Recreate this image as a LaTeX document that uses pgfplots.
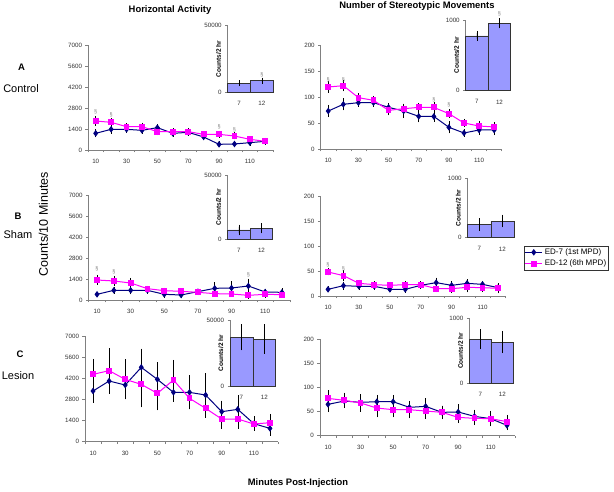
\documentclass[border=0pt]{standalone}
\usepackage{fontspec}
\setmainfont{Liberation Sans}
\usepackage{pgfplots}
\pgfplotsset{compat=1.18}
\definecolor{edblue}{RGB}{0,0,128}
\definecolor{edmag}{RGB}{255,0,255}
\definecolor{barfill}{RGB}{153,153,255}
\pgfplotsset{
 base/.style={scale only axis, axis lines*=left, axis line style={gray, line width=0.6pt, -},
   tick align=outside, tick style={gray, line width=0.5pt}, major tick length=2.5pt, minor tick length=2.5pt,
   tick label style={font=\fontsize{6.2}{7}\selectfont, text=black!80},
   xticklabel style={yshift=-3pt},
   /pgf/number format/assume math mode=true, /pgf/number format/1000 sep={},
   scaled y ticks=false, enlargelimits=false, clip=false},
 mainL/.style={base, xmin=5, xmax=125, xtick={10,30,...,110}, minor xtick={5,15,...,125},
   major x tick style={draw=none}, ymin=0, ymax=7000, ytick={0,1400,...,7000}},
 mainR/.style={base, xmin=5, xmax=125, xtick={10,30,...,110}, minor xtick={5,15,...,125},
   major x tick style={draw=none}, ymin=0, ymax=200, ytick={0,50,...,200}},
 s7/.style={color=edblue, line width=1pt, mark=diamond*, mark size=2.5pt, mark options={fill=edblue, solid},
   error bars/.cd, y dir=both, y explicit, error bar style={black, line width=0.5pt},
   error mark options={black, mark size=2pt, line width=0.5pt}},
 s12/.style={color=edmag, line width=1pt, mark=square*, mark size=2.4pt, mark options={fill=edmag, solid},
   error bars/.cd, y dir=both, y explicit, error bar style={black, line width=0.5pt},
   error mark options={black, mark size=2pt, line width=0.5pt}},
 inset/.style={base, ybar, bar width=1, xmin=0.5, xmax=2.5, xtick={1,2}, xticklabels={7,12},
   major x tick style={draw=none}, ymin=0,
   ylabel={Counts/2 hr}, ylabel style={font=\bfseries\fontsize{6.5}{7}\selectfont, at={(axis description cs:-0.2,0.5)}, anchor=center}},
 ibar/.style={fill=barfill, draw=black!80, line width=0.6pt,
   error bars/.cd, y dir=both, y explicit, error bar style={black, line width=0.5pt},
   error mark options={black, mark size=2.2pt, line width=0.5pt}},
}
\newcommand{\sect}{\fontsize{5.5}{5.5}\selectfont\color{gray}\S}
\begin{document}
\begin{tikzpicture}[x=1pt,y=1pt]
\useasboundingbox (0,0) rectangle (614,492);

% ---------- Panel A left
\begin{axis}[mainL, at={(88pt,342pt)}, anchor=south west, width=185pt, height=105pt]
\addplot[s7] table[x=x,y=y,y error=e,row sep=\\]{x y e\\ 10 1111 130\\ 20 1378 170\\ 30 1378 100\\ 40 1311 100\\ 50 1489 100\\ 60 1111 80\\ 70 1178 80\\ 80 867 80\\ 90 378 60\\ 100 400 60\\ 110 489 60\\ 120 578 60\\};
\addplot[s12] table[x=x,y=y,y error=e,row sep=\\]{x y e\\ 10 1933 180\\ 20 1844 150\\ 30 1556 100\\ 40 1556 130\\ 50 1222 100\\ 60 1222 80\\ 70 1222 80\\ 80 1044 80\\ 90 1044 100\\ 100 933 100\\ 110 711 80\\ 120 578 80\\};
\node at (axis cs:10,2550) {\sect}; \node at (axis cs:20,2330) {\sect};
\node at (axis cs:90,1560) {\sect}; \node at (axis cs:100,1330) {\sect};
\end{axis}
\begin{axis}[inset, at={(227.7pt,399.7pt)}, anchor=south west, width=45.6pt, height=66.6pt, ymax=50000, ytick={0,50000}]
\addplot[ibar] table[x=x,y=y,y error=e,row sep=\\]{x y e\\ 1 6750 500\\ 2 8750 600\\};
\node at (axis cs:2,13000) {\sect};
\end{axis}

% ---------- Panel A right
\begin{axis}[mainR, at={(320.7pt,343pt)}, anchor=south west, width=181pt, height=103.3pt]
\addplot[s7] table[x=x,y=y,y error=e,row sep=\\]{x y e\\ 10 73.5 8\\ 20 86.5 8\\ 30 89.7 4\\ 40 89.7 4\\ 50 80.6 5\\ 60 73.5 10\\ 70 63.2 8\\ 80 63 6\\ 90 42 8\\ 100 31 3\\ 110 36.8 6\\ 120 36.8 6\\};
\addplot[s12] table[x=x,y=y,y error=e,row sep=\\]{x y e\\ 10 120 7\\ 20 122.6 7\\ 30 99.4 5\\ 40 94.2 5\\ 50 74.8 6\\ 60 78 6\\ 70 80.6 4\\ 80 80.6 6\\ 90 68.4 5\\ 100 50.3 4\\ 110 44.5 6\\ 120 42.6 6\\};
\node at (axis cs:10,133.5) {\sect}; \node at (axis cs:20,133.5) {\sect};
\node at (axis cs:80,96) {\sect}; \node at (axis cs:90,86.5) {\sect};
\end{axis}
\begin{axis}[inset, at={(465.7pt,401.3pt)}, anchor=south west, width=45pt, height=70.7pt, ymax=1000, ytick={0,1000}]
\addplot[ibar] table[x=x,y=y,y error=e,row sep=\\]{x y e\\ 1 774 40\\ 2 953 40\\};
\node at (axis cs:2,1085) {\sect};
\end{axis}

% ---------- Panel B left
\begin{axis}[mainL, at={(88.6pt,192pt)}, anchor=south west, width=201.8pt, height=105pt]
\addplot[s7] table[x=x,y=y,y error=e,row sep=\\]{x y e\\ 10 378 50\\ 20 644 110\\ 30 644 140\\ 40 644 100\\ 50 378 90\\ 60 333 100\\ 70 556 70\\ 80 778 270\\ 90 800 330\\ 100 933 350\\ 110 533 70\\ 120 511 130\\};
\addplot[s12] table[x=x,y=y,y error=e,row sep=\\]{x y e\\ 10 1333 200\\ 20 1267 200\\ 30 1133 200\\ 40 756 50\\ 50 622 60\\ 60 578 60\\ 70 511 60\\ 80 422 60\\ 90 400 60\\ 100 311 80\\ 110 378 80\\ 120 356 80\\};
\node at (axis cs:10,2110) {\sect}; \node at (axis cs:20,1890) {\sect};
\node at (axis cs:100,1670) {\sect};
\end{axis}
\begin{axis}[inset, at={(227.7pt,252.7pt)}, anchor=south west, width=45pt, height=64.3pt, ymax=50000, ytick={0,50000}]
\addplot[ibar] table[x=x,y=y,y error=e,row sep=\\]{x y e\\ 1 7250 2500\\ 2 8550 2300\\};
\end{axis}

% ---------- Panel B right
\begin{axis}[mainR, at={(320.3pt,196pt)}, anchor=south west, width=185.4pt, height=100pt,
  legend style={at={(1.099,0.5)}, anchor=north west, font=\fontsize{8}{9}\selectfont, draw=black!80,
  line width=0.4pt, inner sep=0.5pt, row sep=0pt, legend cell align=left}]
\addplot[s7] table[x=x,y=y,y error=e,row sep=\\]{x y e\\ 10 13.3 2\\ 20 20.7 4\\ 30 19.3 3\\ 40 19.3 3\\ 50 13.3 2\\ 60 13.3 3\\ 70 21.3 3\\ 80 26.7 6\\ 90 21.3 4\\ 100 25.3 4\\ 110 23.3 3\\ 120 16.7 3\\};
\addlegendentry{ED-7 (1st MPD)}
\addplot[s12] table[x=x,y=y,y error=e,row sep=\\]{x y e\\ 10 48 3\\ 20 40.7 7\\ 30 25.3 3\\ 40 22.7 3\\ 50 21.3 3\\ 60 22.7 3\\ 70 22.7 3\\ 80 14.7 3\\ 90 14.7 4\\ 100 17.3 6\\ 110 16.7 5\\ 120 15.3 6\\};
\addlegendentry{ED-12 (6th MPD)}
\node at (axis cs:10,62) {\sect}; \node at (axis cs:20,55) {\sect};
\end{axis}
\begin{axis}[inset, at={(467.7pt,254.3pt)}, anchor=south west, width=46.3pt, height=59.4pt, ymax=1000, ytick={0,1000}]
\addplot[ibar] table[x=x,y=y,y error=e,row sep=\\]{x y e\\ 1 225 67\\ 2 281 70\\};
\end{axis}

% ---------- Panel C left
\begin{axis}[mainL, at={(85pt,50.3pt)}, anchor=south west, width=193pt, height=105.7pt]
\addplot[s7] table[x=x,y=y,y error=e,row sep=\\]{x y e\\ 10 3357 650\\ 20 4019 700\\ 30 3754 800\\ 40 4924 1100\\ 50 4129 1000\\ 60 3268 500\\ 70 3268 1000\\ 80 3091 1300\\ 90 1987 600\\ 100 2142 800\\ 110 1192 350\\ 120 883 350\\};
\addplot[s12] table[x=x,y=y,y error=e,row sep=\\]{x y e\\ 10 4461 900\\ 20 4703 1350\\ 30 4129 1200\\ 40 3798 1400\\ 50 3202 1000\\ 60 4085 1200\\ 70 2871 600\\ 80 2208 500\\ 90 1502 500\\ 100 1502 500\\ 110 1170 250\\ 120 1259 450\\};
\end{axis}
\begin{axis}[inset, at={(230pt,106pt)}, anchor=south west, width=45.7pt, height=66pt, ymax=50000, ytick={0,50000}]
\addplot[ibar] table[x=x,y=y,y error=e,row sep=\\]{x y e\\ 1 36900 8200\\ 2 35600 9500\\};
\end{axis}

% ---------- Panel C right
\begin{axis}[mainR, at={(319.9pt,56.3pt)}, anchor=south west, width=195.2pt, height=96.7pt]
\addplot[s7] table[x=x,y=y,y error=e,row sep=\\]{x y e\\ 10 64.8 12\\ 20 71.7 8\\ 30 69 10\\ 40 70.3 10\\ 50 70.3 10\\ 60 58.6 6\\ 70 60.7 13\\ 80 48.3 10\\ 90 49 12\\ 100 40 10\\ 110 35.2 8\\ 120 21.4 6\\};
\addplot[s12] table[x=x,y=y,y error=e,row sep=\\]{x y e\\ 10 77.2 13\\ 20 73.1 12\\ 30 67.6 14\\ 40 57.2 15\\ 50 53.8 12\\ 60 53.8 14\\ 70 51 12\\ 80 48.3 10\\ 90 37.9 8\\ 100 35.9 10\\ 110 35.2 12\\ 120 29 10\\};
\end{axis}
\begin{axis}[inset, at={(469.3pt,108.7pt)}, anchor=south west, width=44pt, height=65pt, ymax=1000, ytick={0,1000}]
\addplot[ibar] table[x=x,y=y,y error=e,row sep=\\]{x y e\\ 1 677 118\\ 2 635 138\\};
\end{axis}

% ---------- Text
\node[font=\bfseries\fontsize{9.4}{10}\selectfont] at (170pt,482pt) {Horizontal Activity};
\node[font=\bfseries\fontsize{9.4}{10}\selectfont] at (417pt,486pt) {Number of Stereotypic Movements};
\node[font=\bfseries\fontsize{9.5}{10}\selectfont] at (21.5pt,424.5pt) {A};
\node[font=\fontsize{11}{12}\selectfont] at (21pt,403pt) {Control};
\node[font=\bfseries\fontsize{9.5}{10}\selectfont] at (18pt,276pt) {B};
\node[font=\fontsize{11}{12}\selectfont] at (18pt,257pt) {Sham};
\node[font=\bfseries\fontsize{9.5}{10}\selectfont] at (20pt,138pt) {C};
\node[font=\fontsize{11}{12}\selectfont] at (18pt,116pt) {Lesion};
\node[font=\fontsize{12.5}{14}\selectfont, rotate=90] at (43.5pt,268pt) {Counts/10 Minutes};
\node[font=\bfseries\fontsize{9.4}{10}\selectfont] at (298pt,9pt) {Minutes Post-Injection};
\end{tikzpicture}
\end{document}
